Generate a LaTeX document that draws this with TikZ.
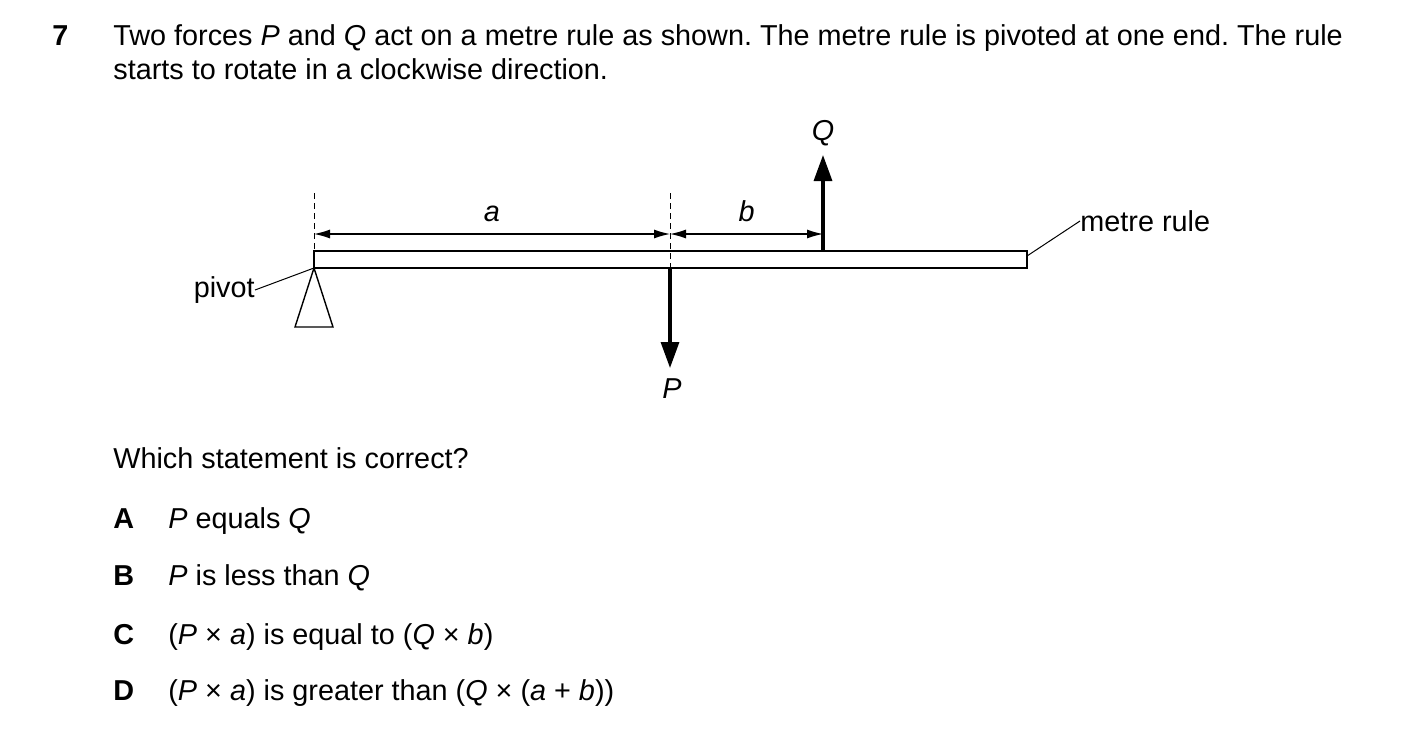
\documentclass[tikz,border=0pt]{standalone}
\usepackage{fontspec}
\setmainfont{Liberation Sans}
\usetikzlibrary{arrows.meta}
\begin{document}
\frenchspacing
\begin{tikzpicture}[
        x=0.5pt, y=-0.5pt,
        txt/.style={anchor=base west, inner sep=0pt, font=\fontsize{14.4}{16}\selectfont},
        lbl/.style={inner sep=0pt, font=\fontsize{14.4}{16}\selectfont},
        dim/.style={line width=0.6pt, {Latex[length=8pt,width=4.5pt]}-{Latex[length=8pt,width=4.5pt]}},
        force/.style={line width=1.6pt, -{Triangle[length=13pt,width=9pt]}},
        guide/.style={line width=0.5pt, dash pattern=on 3pt off 2pt},
    ]
    \useasboundingbox (0,0) rectangle (1403,755);

    % question text
    \node[txt, font=\bfseries\fontsize{14.4}{16}\selectfont] (num) at (52,45) {7};
    \node[txt] (q1) at (113,45) {Two forces \textit{P} and \textit{Q} act on a metre rule as shown. The metre rule is pivoted at one end. The rule};
    \node[txt] (q2) at (113,79) {starts to rotate in a clockwise direction.};

    % metre rule and pivot
    \draw[line width=0.7pt] (314,251) rectangle (1027,268);
    \coordinate (rule) at (1027,256);
    \coordinate (top) at (314,268);
    \draw[line width=0.7pt] (top) -- (295,327) -- (333,327) -- cycle;

    % guides and dimensions
    \coordinate (g0) at (314,193);
    \coordinate (g1) at (670,193);
    \coordinate (d0) at (314,234);
    \coordinate (d1) at (670,234);
    \coordinate (d2) at (823,234);
    \draw[guide] (g0) -- (314,251);
    \draw[guide] (g1) -- (670,268);
    \draw[dim] (d0) -- node[lbl, above=6pt] {\textit{a}} (d1);
    \draw[dim] (d1) -- node[lbl, above=6pt] {\textit{b}} (d2);

    % forces
    \coordinate (qs) at (823,251);
    \coordinate (ps) at (670,268);
    \node[lbl] (Q) at (823,133) {\textit{Q}};
    \node[lbl] (P) at (672,389) {\textit{P}};
    \draw[force] (qs) -- (823,155);
    \draw[force] (ps) -- (670,368);

    % labels
    \node[lbl, anchor=east] (pivot) at (255,290) {pivot};
    \draw[line width=0.5pt] (pivot.east) -- (top);
    \node[lbl, anchor=west] (mr) at (1080,221) {metre rule};
    \draw[line width=0.5pt] (rule) -- (mr.west);

    % options
    \node[txt] (ask) at (113,468) {Which statement is correct?};
    \node[txt, font=\bfseries\fontsize{14.4}{16}\selectfont] (A) at (113,528) {A};
    \node[txt] (ta) at (168,528) {\textit{P} equals \textit{Q}};
    \node[txt, font=\bfseries\fontsize{14.4}{16}\selectfont] (B) at (113,585) {B};
    \node[txt] (tb) at (168,585) {\textit{P} is less than \textit{Q}};
    \node[txt, font=\bfseries\fontsize{14.4}{16}\selectfont] (C) at (113,644) {C};
    \node[txt] (tc) at (168,644) {(\textit{P} × \textit{a}) is equal to (\textit{Q} × \textit{b})};
    \node[txt, font=\bfseries\fontsize{14.4}{16}\selectfont] (D) at (113,700) {D};
    \node[txt] (td) at (168,700) {(\textit{P} × \textit{a}) is greater than (\textit{Q} × (\textit{a} + \textit{b}))};
\end{tikzpicture}
\end{document}
